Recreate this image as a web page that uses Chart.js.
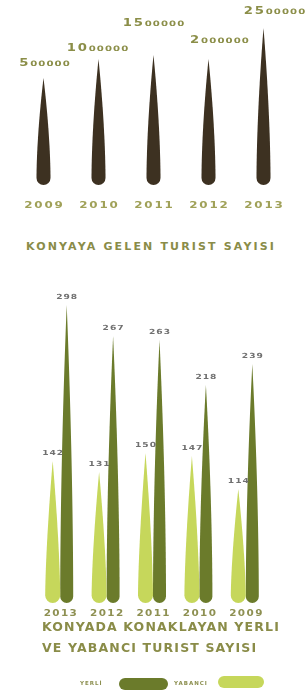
<!DOCTYPE html>
<html lang="tr">
<head>
<meta charset="UTF-8">
<title>Konya Turist Sayısı</title>
<script src="https://cdn.jsdelivr.net/npm/chart.js@4.4.0/dist/chart.umd.min.js"></script>
<style>
    body {
        margin: 0;
        width: 308px;
        height: 695px;
        background: #fff;
        position: relative;
        overflow: hidden;
        font-family: "DejaVu Sans", sans-serif;
    }
    .box { position: absolute; left: 0; width: 308px; }
    #topBox { top: 0; height: 215px; }
    #bottomBox { top: 270px; height: 355px; }
    .title {
        position: absolute;
        white-space: nowrap;
        color: #8a8c48;
        font-weight: bold;
        line-height: 1;
    }
    #title1 { left: 26px; top: 241px; font-size: 11px; letter-spacing: 2.15px; }
    #title2a { left: 42px; top: 621px; font-size: 12.5px; letter-spacing: 1.15px; }
    #title2b { left: 42px; top: 642px; font-size: 12.5px; letter-spacing: 1.15px; }
    #legend { position: absolute; left: 80px; top: 675px; height: 16px; }
    .lg-text {
        position: absolute; top: 5px; font-size: 5.5px; font-weight: bold;
        color: #8c8f4f; letter-spacing: 1px; white-space: nowrap;
    }
    .lg-pill { position: absolute; height: 12px; border-radius: 6px; }
</style>
</head>
<body>
<div class="box" id="topBox"><canvas id="topChart"></canvas></div>
<div class="title" id="title1">KONYAYA GELEN TURIST SAYISI</div>
<div class="box" id="bottomBox"><canvas id="bottomChart"></canvas></div>
<div class="title" id="title2a">KONYADA KONAKLAYAN YERLI</div>
<div class="title" id="title2b">VE YABANCI TURIST SAYISI</div>
<div id="legend"></div>

<script>
    // ust grafik: Konya'ya gelen turist
    const topYears = ['2009', '2010', '2011', '2012', '2013'];
    const topValues = [500000, 1000000, 1500000, 2000000, 2500000];
    const topLeadDigits = [1, 2, 2, 1, 2];          // buyuk yazilan basamak sayisi
    const topBarHeights = [107, 126, 130, 126, 157]; // resimdeki cubuk boylari

    // alt grafik: konaklayan yerli / yabanci
    const bottomYears = ['2013', '2012', '2011', '2010', '2009'];
    const yerli = [298, 267, 263, 218, 239];
    const yabanci = [142, 131, 150, 147, 114];

    const BROWN = '#3d3121';
    const DARK = '#6b7b2b';
    const LIGHT = '#c6d75b';

    // genis harfli yazi (harf harf, yatay gerilmis)
    function wideText(ctx, parts, x, y, align) {
        let items = [];
        parts.forEach(p => {
            ctx.font = (p.bold ? 'bold ' : '') + p.size + 'px "DejaVu Sans"';
            [...p.text].forEach(ch => {
                items.push({ ch, p, w: ctx.measureText(ch).width * p.stretch + p.gap });
            });
        });
        const total = items.reduce((a, it) => a + it.w, 0) - (items.length ? items[items.length - 1].p.gap : 0);
        let cx = align === 'center' ? x - total / 2 : x;
        items.forEach(it => {
            ctx.save();
            ctx.font = (it.p.bold ? 'bold ' : '') + it.p.size + 'px "DejaVu Sans"';
            ctx.fillStyle = it.p.color;
            ctx.textBaseline = 'alphabetic';
            ctx.translate(cx, y);
            ctx.scale(it.p.stretch, 1);
            ctx.fillText(it.ch, 0, 0);
            ctx.restore();
            cx += it.w;
        });
    }

    // cubuklari igne seklinde ciz
    const spikePlugin = {
        id: 'spikes',
        beforeDatasetDraw(chart, args) {
            const ctx = chart.ctx;
            const ds = chart.data.datasets[args.index];
            const p = ds.spikePower || 2;
            args.meta.data.forEach(bar => {
                const w = bar.width, r = w / 2;
                const x = bar.x, tip = bar.y, start = bar.base - r;
                const h = start - tip;
                const n = 40;
                ctx.save();
                ctx.fillStyle = ds.backgroundColor;
                ctx.beginPath();
                for (let i = 0; i <= n; i++) {
                    const u = i / n;
                    ctx.lineTo(x - r * (1 - Math.pow(u, p)), start - u * h);
                }
                for (let i = n; i >= 0; i--) {
                    const u = i / n;
                    ctx.lineTo(x + r * (1 - Math.pow(u, p)), start - u * h);
                }
                ctx.arc(x, start, r, 0, Math.PI);
                ctx.closePath();
                ctx.fill();
                ctx.restore();
            });
            return false;
        }
    };

    // ust grafik
    new Chart(document.getElementById('topChart'), {
        type: 'bar',
        data: {
            labels: topYears,
            datasets: [{
                data: topBarHeights,
                backgroundColor: BROWN,
                barThickness: 14,
                spikePower: 1.7
            }]
        },
        options: {
            responsive: true,
            maintainAspectRatio: false,
            animation: false,
            layout: { padding: { left: 16, right: 17, top: 20, bottom: 30 } },
            plugins: {
                legend: { display: false },
                tooltip: { enabled: false },
                topLabels: {
                    // etiketlerin ucun ustundeki kaymasi (resimdeki gibi)
                    dx: [1, -1, 0, 11, 11],
                    lift: [6, 2, 23, 10, 8]
                }
            },
            scales: {
                x: { display: false },
                y: { display: false, min: 0, max: 165 }
            }
        },
        plugins: [spikePlugin, {
            id: 'topLabels',
            afterDraw(chart, args, opts) {
                const ctx = chart.ctx;
                const meta = chart.getDatasetMeta(0);
                const area = chart.chartArea;
                meta.data.forEach((bar, i) => {
                    const s = String(topValues[i]);
                    const lead = s.slice(0, topLeadDigits[i]);
                    const rest = s.slice(topLeadDigits[i]);
                    wideText(ctx, [
                        { text: lead, size: 11, stretch: 1.2, gap: 1.8, color: '#8b8e48', bold: true },
                        { text: rest, size: 7.5, stretch: 1.35, gap: 1.1, color: '#8b8e48', bold: true }
                    ], bar.x + opts.dx[i], bar.y - 6 - opts.lift[i], 'center');
                    wideText(ctx, [
                        { text: topYears[i], size: 8.5, stretch: 1.4, gap: 1.8, color: '#a0a158', bold: true }
                    ], bar.x, area.bottom + 23, 'center');
                });
            }
        }]
    });

    // alt grafik
    const bottomChart = new Chart(document.getElementById('bottomChart'), {
        type: 'bar',
        data: {
            labels: bottomYears,
            datasets: [
                { label: 'YABANCI', data: yabanci, backgroundColor: LIGHT, barThickness: 15, spikePower: 1.5 },
                { label: 'YERLİ', data: yerli, backgroundColor: DARK, barThickness: 13, spikePower: 1.8 }
            ]
        },
        options: {
            responsive: true,
            maintainAspectRatio: false,
            animation: false,
            layout: { padding: { left: 37, right: 39, top: 3, bottom: 22 } },
            plugins: { legend: { display: false }, tooltip: { enabled: false } },
            scales: {
                x: { display: false },
                y: { display: false, min: 0, max: 330 }
            }
        },
        plugins: [spikePlugin, {
            id: 'bottomLabels',
            afterDraw(chart) {
                const ctx = chart.ctx;
                const area = chart.chartArea;
                chart.data.datasets.forEach((ds, d) => {
                    chart.getDatasetMeta(d).data.forEach((bar, i) => {
                        wideText(ctx, [
                            { text: String(ds.data[i]), size: 7, stretch: 1.3, gap: 1, color: '#707070', bold: true }
                        ], bar.x, bar.y - 6, 'center');
                    });
                });
                bottomYears.forEach((yr, i) => {
                    const x = chart.scales.x.getPixelForValue(i);
                    wideText(ctx, [
                        { text: yr, size: 8, stretch: 1.3, gap: 1.4, color: '#8e9052', bold: true }
                    ], x, area.bottom + 13, 'center');
                });
            }
        }]
    });

    // lejant (yerli, yabanci)
    const legend = document.getElementById('legend');
    const legendItems = [
        { ds: bottomChart.data.datasets[1], textLeft: 0, pillLeft: 39, pillWidth: 49, pillTop: 3 },
        { ds: bottomChart.data.datasets[0], textLeft: 94, pillLeft: 138, pillWidth: 46, pillTop: 1 }
    ];
    legendItems.forEach(it => {
        const t = document.createElement('span');
        t.className = 'lg-text';
        t.style.left = it.textLeft + 'px';
        t.textContent = it.ds.label;
        legend.appendChild(t);
        const p = document.createElement('span');
        p.className = 'lg-pill';
        p.style.left = it.pillLeft + 'px';
        p.style.top = it.pillTop + 'px';
        p.style.width = it.pillWidth + 'px';
        p.style.background = it.ds.backgroundColor;
        legend.appendChild(p);
    });
</script>
</body>
</html>
